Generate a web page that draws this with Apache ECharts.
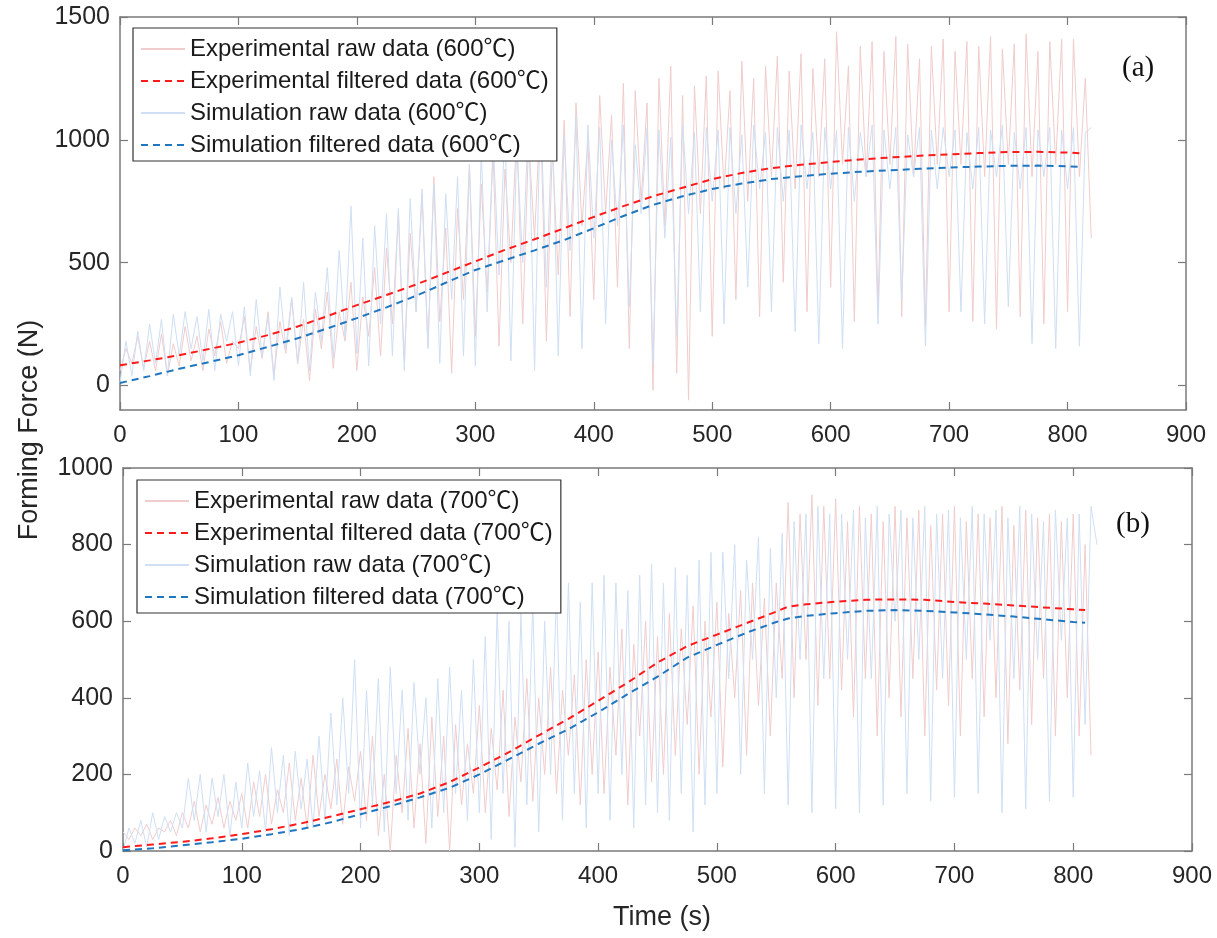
<!DOCTYPE html>
<html>
<head>
<meta charset="utf-8">
<script src="https://cdn.jsdelivr.net/npm/echarts@6/dist/echarts.min.js"></script>
<style>html,body{margin:0;padding:0;background:#fff;}#chart{width:1217px;height:938px;}</style>
</head>
<body>
<div id="chart"></div>
<script>
// ---------- Data ----------
const rawStep = 5; // seconds between raw samples
// Panel (a) 600 ℃
const expRaw600 = [
 60,150,90,200,70,180,60,210,40,170,80,240,100,200,60,230,120,260,90,180,
 150,280,60,240,110,300,40,260,130,350,90,270,20,310,150,380,70,300,180,420,
 60,360,200,480,120,560,250,700,100,620,300,780,160,850,260,640,50,720,350,900,
 200,820,380,950,160,880,500,1050,250,1000,600,1120,180,960,450,1080,280,1150,650,1000,
 350,1180,700,1100,400,1230,150,1200,750,1150,-20,1250,650,1300,50,1180,-60,1220,700,1260,
 200,1280,800,1200,350,1320,750,1250,280,1300,850,1340,420,1280,800,1350,300,1290,850,1330,
 400,1440,900,1300,260,1380,850,1400,300,1360,900,1420,280,1390,850,1330,240,1380,900,1410,
 300,1360,900,1400,260,1380,850,1420,230,1370,900,1390,280,1430,850,1360,250,1400,900,1410,
 300,1410,850,1250,600
];
const simRaw600 = [
 10,180,40,220,60,250,90,270,40,290,120,300,150,280,100,310,60,290,180,300,
 80,320,40,350,120,280,20,400,150,360,90,420,60,380,180,480,110,550,200,730,
 130,600,80,650,250,700,120,720,60,760,300,800,150,820,90,780,350,850,120,900,
 80,950,300,1000,450,1050,100,980,500,1100,60,1150,400,1080,120,1020,550,1090,150,1060,
 600,1050,250,1000,650,1060,320,980,700,1050,90,1040,600,1010,200,1060,700,1030,300,1050,
 750,1040,250,1050,700,1020,400,1060,800,1030,300,1050,750,1040,220,1060,800,1030,170,1050,
 800,1040,150,1050,750,1030,850,1060,250,1040,800,1050,350,1020,850,1050,160,1040,800,1050,
 850,1040,300,1030,800,1050,250,1040,850,1060,320,1030,800,1050,170,1040,850,1050,150,1040,
 800,1050,160,1030,1050
];
const filtT600 = [0,25,50,75,100,125,150,175,200,225,250,275,300,325,350,375,400,425,450,475,500,525,550,575,600,625,650,675,700,725,750,775,800,812];
const expFilt600 = [82,102,123,148,174,205,240,282,327,368,411,458,505,552,595,640,686,730,770,805,840,865,885,898,910,920,928,935,941,946,950,951,948,945];
const simFilt600 = [10,38,68,95,123,157,192,232,274,318,365,418,470,510,550,592,640,690,735,770,800,822,840,852,862,870,876,882,887,891,894,895,892,889];

// Panel (b) 700 ℃
const expRaw700 = [
 50,30,60,40,70,30,60,50,80,40,100,60,130,50,120,70,140,60,130,80,
 150,60,180,90,200,70,160,100,230,80,190,60,250,90,200,110,240,70,220,130,
 260,80,300,40,200,0,250,100,320,60,280,20,350,90,300,0,330,120,280,150,
 380,100,320,160,420,90,350,180,450,130,400,200,480,150,420,250,460,120,500,200,
 520,150,480,250,580,120,540,300,600,180,560,200,620,250,580,330,640,200,600,350,
 650,220,620,400,680,250,700,380,660,300,700,450,910,400,880,500,930,380,900,450,
 920,420,860,350,900,450,880,300,860,400,900,350,870,450,890,300,850,420,880,380,
 900,300,860,450,880,350,870,400,900,280,850,420,890,330,870,450,880,300,860,400,
 880,300,800,250
];
const simRaw700 = [
 0,60,20,80,10,100,30,90,50,100,60,190,80,200,50,190,90,200,40,180,
 60,230,90,210,50,270,100,250,40,260,110,240,60,300,80,360,120,400,150,500,
 60,420,120,450,50,480,150,420,80,440,200,400,60,450,100,480,150,420,80,500,
 100,560,30,630,150,600,10,620,120,650,50,600,200,680,80,700,150,650,60,700,
 150,720,80,700,200,680,60,720,120,750,100,700,80,740,150,720,50,760,120,780,
 150,780,450,800,200,760,500,820,150,790,400,830,120,860,500,880,100,900,450,880,
 110,880,500,890,100,870,450,900,120,880,600,890,150,870,500,900,130,880,450,890,
 140,870,500,900,150,880,550,890,100,870,450,900,110,880,500,860,130,890,550,870,
 140,880,330,900,800
];
const filtT700 = [0,25,50,75,100,125,150,175,200,225,250,275,300,325,350,375,400,425,450,475,500,525,550,560,575,600,625,650,675,700,725,750,775,800,810];
const expFilt700 = [10,17,24,33,44,57,72,90,109,128,150,180,218,258,302,345,392,440,492,535,565,595,625,638,644,651,656,657,656,650,646,641,636,631,629];
const simFilt700 = [2,7,15,23,32,44,57,75,96,117,140,165,200,240,280,318,362,410,455,505,538,570,598,607,614,621,627,629,627,623,618,612,605,598,596];

const xTicks = [0,100,200,300,400,500,600,700,800,900];
const yTicksA = [0,500,1000,1500];
const yTicksB = [0,200,400,600,800,1000];

const names600 = ['Experimental raw data (600℃)','Experimental filtered data (600℃)','Simulation raw data (600℃)','Simulation filtered data (600℃)'];
const names700 = ['Experimental raw data (700℃)','Experimental filtered data (700℃)','Simulation raw data (700℃)','Simulation filtered data (700℃)'];

// ---------- Helpers ----------
const pairsStep = arr => arr.map((v, i) => [i * rawStep, v]);
const pairs = (ts, vs) => ts.map((t, i) => [t, vs[i]]);

const FONT = "'Liberation Sans', Arial, 'Noto Sans CJK SC', sans-serif";
const AX = '#7a7a7a';
const LBL = '#262626';
const plain = v => String(v);

function xAxisDef(gridIndex, pos, showLabels) {
  return {
    type: 'value', gridIndex, position: pos, min: 0, max: 900, interval: 100,
    axisLine: { show: true, onZero: false, lineStyle: { color: AX, width: 1.5 } },
    axisTick: { show: true, inside: true, length: 8, customValues: xTicks, lineStyle: { color: AX, width: 1.2 } },
    axisLabel: { show: showLabels, fontSize: 24, color: LBL, fontFamily: FONT, margin: 13, customValues: xTicks, formatter: plain },
    splitLine: { show: false }
  };
}
function yAxisDef(gridIndex, pos, min, max, ticks, showLabels) {
  return {
    type: 'value', gridIndex, position: pos, min, max,
    axisLine: { show: true, onZero: false, lineStyle: { color: AX, width: 1.5 } },
    axisTick: { show: true, inside: true, length: 8, customValues: ticks, lineStyle: { color: AX, width: 1.2 } },
    axisLabel: { show: showLabels, fontSize: 25, color: LBL, fontFamily: FONT, margin: 10, customValues: ticks, formatter: plain },
    splitLine: { show: false }
  };
}
function rawSeries(name, data, color, xi, yi) {
  return { name, type: 'line', xAxisIndex: xi, yAxisIndex: yi, data, symbol: 'none', showSymbol: false, silent: true,
    lineStyle: { color, width: 1 }, itemStyle: { color }, z: 2 };
}
function filtSeries(name, data, color, xi, yi) {
  return { name, type: 'line', xAxisIndex: xi, yAxisIndex: yi, data, symbol: 'none', showSymbol: false, silent: true,
    lineStyle: { color, width: 2, type: [7, 5] }, itemStyle: { color }, z: 4 };
}
function legendDef(names, left, top) {
  return {
    data: names, orient: 'vertical', left, top, selectedMode: false,
    itemWidth: 44, itemHeight: 14, itemGap: 6,
    padding: [8, 8, 3, 7],
    itemStyle: { opacity: 0, borderWidth: 0 },
    backgroundColor: '#fff', borderColor: '#333', borderWidth: 1.2,
    textStyle: { fontSize: 24, color: '#1a1a1a', fontFamily: FONT, lineHeight: 26 }
  };
}

const PINK = '#f1cccc';
const LBLUE = '#cfdff4';
const RED = '#ff1a1a';
const BLUE = '#1f77c0';

const option = {
  animation: false,
  backgroundColor: '#fff',
  grid: [
    { left: 120, top: 17, width: 1066, height: 393 },
    { left: 123, top: 468, width: 1069, height: 383 }
  ],
  xAxis: [
    xAxisDef(0, 'bottom', true), xAxisDef(0, 'top', false),
    xAxisDef(1, 'bottom', true), xAxisDef(1, 'top', false)
  ],
  yAxis: [
    yAxisDef(0, 'left', -100, 1500, yTicksA, true), yAxisDef(0, 'right', -100, 1500, yTicksA, false),
    yAxisDef(1, 'left', 0, 1000, yTicksB, true), yAxisDef(1, 'right', 0, 1000, yTicksB, false)
  ],
  legend: [legendDef(names600, 133, 28), legendDef(names700, 137, 480)],
  series: [
    rawSeries(names600[0], pairsStep(expRaw600), PINK, 0, 0),
    rawSeries(names600[2], pairsStep(simRaw600), LBLUE, 0, 0),
    filtSeries(names600[1], pairs(filtT600, expFilt600), RED, 0, 0),
    filtSeries(names600[3], pairs(filtT600, simFilt600), BLUE, 0, 0),
    rawSeries(names700[0], pairsStep(expRaw700), PINK, 2, 2),
    rawSeries(names700[2], pairsStep(simRaw700), LBLUE, 2, 2),
    filtSeries(names700[1], pairs(filtT700, expFilt700), RED, 2, 2),
    filtSeries(names700[3], pairs(filtT700, simFilt700), BLUE, 2, 2)
  ],
  graphic: [
    { type: 'text', left: 1122, top: 54, style: { text: '(a)', fontSize: 29, fontFamily: "'Liberation Serif', 'Times New Roman', serif", fill: '#111' } },
    { type: 'text', left: 1116, top: 510, style: { text: '(b)', fontSize: 29, fontFamily: "'Liberation Serif', 'Times New Roman', serif", fill: '#111' } },
    { type: 'text', x: 30, y: 430, rotation: Math.PI / 2, style: { text: 'Forming Force (N)', fontSize: 27, fontFamily: FONT, fill: LBL, align: 'center', verticalAlign: 'middle' } },
    { type: 'text', x: 662, y: 918, style: { text: 'Time (s)', fontSize: 27, fontFamily: FONT, fill: LBL, align: 'center', verticalAlign: 'middle' } }
  ]
};

const chart = echarts.init(document.getElementById('chart'), null, { renderer: 'canvas' });
chart.setOption(option);
</script>
</body>
</html>
